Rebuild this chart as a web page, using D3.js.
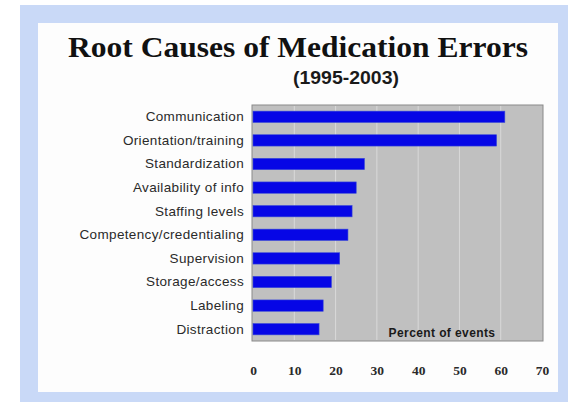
<!DOCTYPE html>
<html><head><meta charset="utf-8">
<script src="https://cdn.jsdelivr.net/npm/d3@7"></script>
<style>html,body{margin:0;padding:0;background:#fff;}svg{display:block;}</style>
</head><body>
<script>
const categories = ["Communication","Orientation/training","Standardization","Availability of info","Staffing levels","Competency/credentialing","Supervision","Storage/access","Labeling","Distraction"];
const values = [61,59,27,25,24,23,21,19,17,16];
const tickValues = [0,10,20,30,40,50,60,70];
const title = "Root Causes of Medication Errors";
const subtitle = "(1995-2003)";
const axisTitle = "Percent of events";

const W=568,H=402;
const svg=d3.select("body").append("svg").attr("width",W).attr("height",H);
svg.append("rect").attr("x",20).attr("y",5).attr("width",548).attr("height",397).attr("fill","#c9d9f7");
svg.append("rect").attr("x",38).attr("y",23).attr("width",520).attr("height",369).attr("fill","#fdfdfd");

svg.append("text").attr("x",298).attr("y",57).attr("text-anchor","middle")
  .attr("font-family","Liberation Serif, Times New Roman, serif").attr("font-weight","bold")
  .attr("font-size",30).attr("fill","#111").attr("textLength",460).attr("lengthAdjust","spacingAndGlyphs").text(title);
svg.append("text").attr("x",346).attr("y",84).attr("text-anchor","middle")
  .attr("font-family","Liberation Sans, Arial, sans-serif").attr("font-weight","bold")
  .attr("font-size",19).attr("fill","#1a1a1a").attr("textLength",106).attr("lengthAdjust","spacingAndGlyphs").text(subtitle);

const x0=253,x1=542,yTop=105,yBot=341;
const x=d3.scaleLinear().domain([0,70]).range([x0,x1]);
const y=d3.scaleBand().domain(categories).range([yTop,yBot]).paddingInner(0.52).paddingOuter(0.26);

svg.append("rect").attr("x",x0-1).attr("y",yTop).attr("width",x1-x0+2).attr("height",yBot-yTop)
  .attr("fill","#c0c0c0").attr("stroke","#8a8a8a").attr("stroke-width",1);
svg.append("g").selectAll("line").data(tickValues.slice(1,-1)).join("line")
  .attr("x1",d=>x(d)).attr("x2",d=>x(d)).attr("y1",yTop+1).attr("y2",yBot-1)
  .attr("stroke","#d9d9d9").attr("stroke-width",1);

svg.append("g").selectAll("rect").data(values).join("rect")
  .attr("x",x(0)).attr("y",(d,i)=>y(categories[i])).attr("width",d=>x(d)-x(0)).attr("height",y.bandwidth())
  .attr("fill","#0606e6").attr("stroke","#3a4ad8").attr("stroke-width",0.6);

const yAxis=d3.axisLeft(y).tickSize(0).tickPadding(8);
const gy=svg.append("g").attr("transform",`translate(${x0-1},0)`).call(yAxis);
gy.select(".domain").remove();
gy.selectAll("text").attr("font-family","Liberation Sans, Arial, sans-serif").attr("font-size",13.5).attr("letter-spacing",0.35).attr("fill","#2a2a2a");

const xAxis=d3.axisBottom(x).tickValues(tickValues).tickSize(0).tickPadding(0);
const gx=svg.append("g").attr("transform",`translate(0,${yBot+24})`).call(xAxis);
gx.select(".domain").remove();
gx.selectAll("text").attr("font-family","Liberation Serif, Times New Roman, serif").attr("font-weight","bold").attr("font-size",13.5).attr("fill","#2a2a2a");

svg.append("text").attr("x",442).attr("y",337).attr("text-anchor","middle")
  .attr("font-family","Liberation Sans, Arial, sans-serif").attr("font-weight","bold")
  .attr("font-size",12).attr("letter-spacing",0.4).attr("fill","#1a1a1a").text(axisTitle);
</script>
</body></html>
